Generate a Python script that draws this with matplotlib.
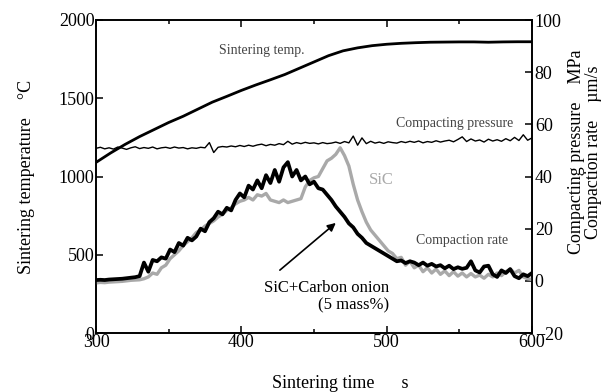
import matplotlib.pyplot as plt
import numpy as np

plt.rcParams['font.family'] = ['Liberation Serif', 'DejaVu Serif']

# time grid for the noisy traces (s)
time_fine = np.arange(300, 601, 3)
# time grid for the smooth temperature trace (s)
time_temp = np.arange(300, 601, 10)

# sintering temperature, degC
sinter_temp = [1090, 1150, 1205, 1255, 1300, 1345, 1385, 1430, 1475, 1512, 1550,
               1585, 1618, 1652, 1692, 1732, 1772, 1803, 1822, 1836, 1845,
               1851, 1855, 1858, 1859, 1860, 1860, 1858, 1860, 1861, 1861]

# compacting pressure, MPa
pressure = [50.8, 51.2, 50.6, 51.0, 50.5, 51.3, 50.9, 50.4, 51.0, 51.4, 50.7,
            51.1, 50.8, 51.3, 50.6, 51.0, 51.2, 50.8, 51.3, 50.9, 51.1,
            50.6, 51.0, 50.8, 51.2, 51.0, 53.0, 49.2, 51.2, 51.5, 51.3,
            51.7, 51.4, 51.9, 51.5, 52.0, 51.6, 52.1, 52.4, 51.8, 52.3,
            52.0, 52.6, 52.2, 53.5, 52.4, 53.0, 52.6, 53.1, 52.7, 52.9,
            52.5, 53.0, 52.6, 52.8, 53.2, 52.7, 53.4, 52.9, 55.5, 52.0,
            54.8, 52.6, 53.5, 52.8, 53.2, 52.7, 53.3, 53.0, 52.8, 53.4,
            53.0, 53.5, 53.1, 53.6, 52.9, 53.4, 53.1, 53.7, 53.2, 53.6,
            53.9, 53.3, 54.2, 55.2, 53.4, 54.4, 53.6, 54.0, 53.2, 54.3,
            53.6, 54.1, 53.5, 54.5, 53.7, 55.0, 53.8, 56.0, 53.9, 54.8]

# compaction rate, SiC + carbon onion (5 mass%), um/s
rate_onion = [0.3, 0.4, 0.3, 0.5, 0.6, 0.7, 0.8, 1.0, 1.2, 1.4, 1.8,
              7.0, 3.5, 8.0, 7.5, 9.0, 8.5, 12.0, 11.0, 14.5, 13.5,
              16.5, 15.5, 17.0, 20.0, 19.0, 22.5, 24.0, 26.5, 25.5, 28.0,
              27.0, 31.0, 33.5, 32.0, 36.5, 35.0, 38.5, 35.5, 40.5, 37.5,
              42.5, 38.0, 43.5, 45.5, 40.0, 42.5, 38.5, 40.0, 37.0, 38.0,
              35.5, 35.0, 33.0, 31.0, 28.5, 26.5, 24.5, 22.0, 20.5, 18.0,
              16.5, 14.5, 13.5, 12.5, 11.5, 10.5, 9.5, 8.5, 7.5, 7.8,
              6.8, 7.5, 7.0, 6.0, 7.0, 5.8, 6.5, 5.5, 6.0, 4.8,
              5.8, 4.5, 5.2, 4.6, 5.0, 7.5, 4.0, 3.2, 5.5, 5.8,
              2.5, 1.5, 4.0, 3.0, 4.5, 1.8, 1.0, 2.5, 1.8, 3.0]

# compaction rate, SiC, um/s
rate_sic = [-0.8, -0.6, -0.7, -0.5, -0.4, -0.3, -0.2, 0.0, 0.2, 0.3, 0.4,
            0.8, 1.5, 3.0, 2.5, 5.0, 6.0, 8.5, 10.0, 11.5, 13.5,
            15.0, 16.5, 18.5, 19.5, 21.0, 22.0, 23.0, 24.5, 25.5, 27.0,
            28.0, 29.5, 30.5, 31.0, 32.0, 31.0, 33.0, 32.5, 33.5, 31.0,
            30.5, 30.0, 31.0, 30.0, 30.5, 31.0, 31.5, 36.0, 38.5, 39.5,
            40.0, 43.0, 46.0, 47.0, 48.5, 51.0, 48.0, 44.0, 37.0, 31.0,
            26.5, 22.5, 19.5, 17.5, 15.5, 13.5, 11.5, 10.5, 8.5, 9.0,
            6.0, 7.5, 5.0, 6.0, 3.5, 5.0, 3.0, 4.5, 2.5, 3.8,
            2.0, 3.5, 1.8, 3.0, 1.5, 2.8, 1.5, 2.2, 1.0, 2.5,
            1.5, 3.0, 2.0, 3.5, 4.5, 3.0, 4.0, 1.5, 0.8, 0.5]

gray = '#a9a9a9'

fig = plt.figure(figsize=(6.1, 3.92), dpi=100)
ax = fig.add_axes([96 / 610, 1 - 333 / 392, 436 / 610, 313 / 392])
ax2 = ax.twinx()

# left axis: temperature
ax.plot(time_temp, sinter_temp, color='black', lw=2.0)
ax.set_xlim(300, 600)
ax.set_ylim(0, 2000)
ax.set_xticks([300, 400, 500, 600])
ax.set_xticks([350, 450, 550], minor=True)
ax.set_yticks([0, 500, 1000, 1500, 2000])
ax.tick_params(axis='both', which='both', direction='in', top=True, labelsize=13,
               width=1.1, pad=1)
ax.tick_params(axis='both', which='major', length=5)
ax.tick_params(axis='x', which='minor', length=3)
ax.set_ylabel('Sintering temperature    \u00b0C', fontsize=13, labelpad=17)

# right axis: pressure and compaction rate
ax2.plot(time_fine, pressure, color='black', lw=1.0)
ax2.plot(time_fine, rate_sic, color=gray, lw=2.4)
ax2.plot(time_fine, rate_onion, color='black', lw=2.7)
ax2.set_ylim(-20, 100)
ax2.set_yticks([-20, 0, 20, 40, 60, 80, 100])
ax2.tick_params(axis='y', direction='in', length=5, width=1.1, labelsize=13, pad=2)

for a in (ax, ax2):
    for s in a.spines.values():
        s.set_linewidth(1.2)

# curve labels
ax.text(414, 1808, 'Sintering temp.', fontsize=10, color='#444444', ha='center', va='center')
ax2.text(587, 60.5, 'Compacting pressure', fontsize=10, color='#444444', ha='right', va='center')
ax2.text(496, 38.6, 'SiC', fontsize=12, color=gray, ha='center', va='center')
ax2.text(552, 15.4, 'Compaction rate', fontsize=10, color='#444444', ha='center', va='center')
ax2.text(502, -6.2, 'SiC+Carbon onion\n(5 mass%)', fontsize=12, color='black',
         ha='right', va='center', multialignment='right', linespacing=1.1)
ax2.annotate('', xy=(465, 22.2), xytext=(426.5, 4.1),
             arrowprops=dict(arrowstyle='-|>', color='black', lw=1.2,
                             mutation_scale=12, shrinkA=0, shrinkB=0))

fig.text(340 / 610, 1 - 383 / 392, 'Sintering time      s', fontsize=13,
         ha='center', va='center')
fig.text(585 / 610, 1 - 152 / 392, 'Compacting pressure    MPa\nCompaction rate    \u00b5m/s',
         fontsize=13, rotation=90, ha='center', va='center', multialignment='center',
         linespacing=1.0)

fig.savefig('out.png', dpi=100)
